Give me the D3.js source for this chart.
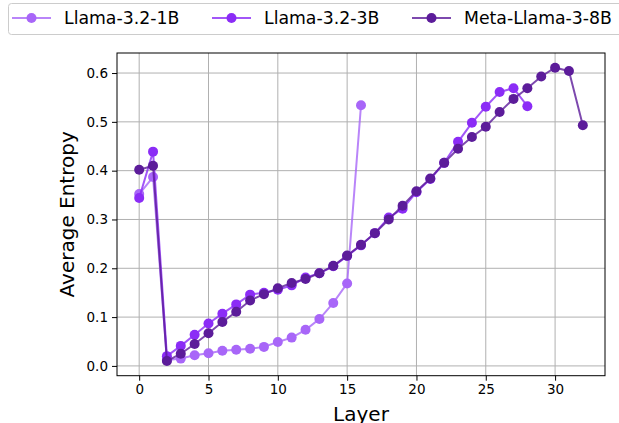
<!doctype html>
<html>
<head>
<meta charset="utf-8" />
<title>Average entropy per layer</title>
<style>
  html,body{margin:0;background:#fff}
  svg{display:block;font-family:"DejaVu Sans", sans-serif}
  .grid line{stroke:#b0b0b0;stroke-width:1}
  .tick text{fill:#000}
</style>
</head>
<body>
<svg id="chart" width="619" height="423"></svg>
<script src="https://cdn.jsdelivr.net/npm/d3@7"></script>
<script>
// ---- data ----
const seriesNames = ["Llama-3.2-1B", "Llama-3.2-3B", "Meta-Llama-3-8B"];
const entropy1B = [0.352, 0.387, 0.012, 0.015, 0.022, 0.026, 0.031, 0.033, 0.035, 0.039,
                   0.049, 0.058, 0.074, 0.096, 0.129, 0.169, 0.534];
const entropy3B = [0.344, 0.439, 0.020, 0.041, 0.064, 0.087, 0.107, 0.126, 0.146, 0.150,
                   0.156, 0.165, 0.181, 0.190, 0.204, 0.225, 0.247, 0.272, 0.304, 0.322,
                   0.356, 0.383, 0.416, 0.459, 0.498, 0.531, 0.561, 0.569, 0.532];
const entropy8B = [0.402, 0.410, 0.010, 0.025, 0.045, 0.067, 0.090, 0.111, 0.134, 0.147,
                   0.159, 0.170, 0.178, 0.190, 0.205, 0.226, 0.248, 0.272, 0.300, 0.328,
                   0.358, 0.384, 0.416, 0.445, 0.469, 0.490, 0.520, 0.547, 0.569, 0.593,
                   0.611, 0.604, 0.493];
const xTicks = [0, 5, 10, 15, 20, 25, 30];
const yTicks = [0.0, 0.1, 0.2, 0.3, 0.4, 0.5, 0.6];
const colors = ["#a866f8", "#8b2cf6", "#5c1c9a"];

const series = [entropy1B, entropy3B, entropy8B].map((vals, i) => ({
  name: seriesNames[i], color: colors[i],
  points: vals.map((v, layer) => ({layer, v}))
}));

// ---- layout ----
const svg = d3.select("#chart");
const M = {left:117, right:605, top:53, bottom:375.7};

// matplotlib-like 5% margins
const allPts = series.flatMap(s => s.points);
const xe = d3.extent(allPts, d => d.layer), ye = d3.extent(allPts, d => d.v);
const xp = (xe[1]-xe[0])*0.05, yp = (ye[1]-ye[0])*0.05;
const x = d3.scaleLinear().domain([xe[0]-xp, xe[1]+xp]).range([M.left, M.right]);
const y = d3.scaleLinear().domain([ye[0]-yp, ye[1]+yp]).range([M.bottom, M.top]);

// grid
const grid = svg.append("g").attr("class","grid");
grid.selectAll(".gx").data(xTicks).join("line")
  .attr("x1", d => x(d)).attr("x2", d => x(d))
  .attr("y1", M.top).attr("y2", M.bottom);
grid.selectAll(".gy").data(yTicks).join("line")
  .attr("x1", M.left).attr("x2", M.right)
  .attr("y1", d => y(d)).attr("y2", d => y(d));

// lines + markers
const line = d3.line().x(d => x(d.layer)).y(d => y(d.v));
series.forEach(s => {
  const g = svg.append("g");
  g.append("path").datum(s.points)
    .attr("d", line).attr("fill","none")
    .attr("stroke", s.color).attr("stroke-opacity", 0.8).attr("stroke-width", 2);
  g.selectAll("circle").data(s.points).join("circle")
    .attr("cx", d => x(d.layer)).attr("cy", d => y(d.v))
    .attr("r", 5).attr("fill", s.color);
});

// axes
const xAxis = svg.append("g").attr("transform",`translate(0,${M.bottom})`)
  .call(d3.axisBottom(x).tickValues(xTicks).tickSize(5).tickPadding(4).tickFormat(d3.format("d")));
const yAxis = svg.append("g").attr("transform",`translate(${M.left},0)`)
  .call(d3.axisLeft(y).tickValues(yTicks).tickSize(5).tickPadding(4).tickFormat(d3.format(".1f")));
[xAxis, yAxis].forEach(a => {
  a.select(".domain").remove();
  a.selectAll("text").attr("font-size", 13.5).attr("font-family","DejaVu Sans");
  a.selectAll(".tick line").attr("stroke","#000");
});

// frame
svg.append("rect").attr("x", M.left).attr("y", M.top)
  .attr("width", M.right-M.left).attr("height", M.bottom-M.top)
  .attr("fill","none").attr("stroke","#000").attr("stroke-width",1);

// axis labels (x label runs off the bottom edge, as in the reference)
svg.append("text").attr("x", (M.left+M.right)/2).attr("y", 421)
  .attr("text-anchor","middle").attr("font-size",20).text("Layer");
svg.append("text")
  .attr("transform",`translate(74,${(M.top+M.bottom)/2}) rotate(-90)`)
  .attr("text-anchor","middle").attr("font-size",20).text("Average Entropy");

// legend
const leg = svg.append("g");
leg.append("rect").attr("x",8.5).attr("y",3.5).attr("width",640).attr("height",31)
  .attr("rx",3).attr("fill","#fff").attr("fill-opacity",0.8)
  .attr("stroke","#cccccc").attr("stroke-width",1);
const legX = [12, 212, 412];
series.forEach((s, i) => {
  const g = leg.append("g").attr("transform",`translate(${legX[i]},18)`);
  g.append("line").attr("x1",0).attr("x2",39).attr("stroke", s.color)
    .attr("stroke-opacity",0.8).attr("stroke-width",2);
  g.append("circle").attr("cx",19.5).attr("r",5).attr("fill", s.color);
  g.append("text").attr("x",52).attr("y",6).attr("font-size",17.3).text(s.name);
});
</script>
</body>
</html>
